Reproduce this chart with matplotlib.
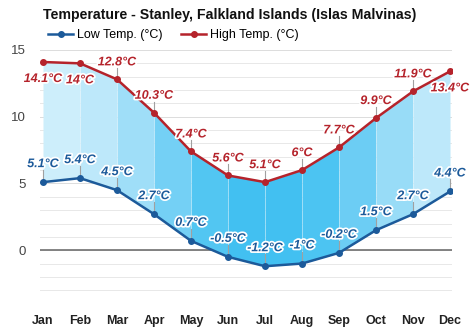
import matplotlib
matplotlib.use("Agg")
import matplotlib.pyplot as plt
import matplotlib.patheffects as pe
import numpy as np

plt.rcParams['font.family'] = ['Liberation Sans', 'DejaVu Sans']

months = ["Jan", "Feb", "Mar", "Apr", "May", "Jun", "Jul", "Aug", "Sep", "Oct", "Nov", "Dec"]
low_temp = [5.1, 5.4, 4.5, 2.7, 0.7, -0.5, -1.2, -1.0, -0.2, 1.5, 2.7, 4.4]
high_temp = [14.1, 14.0, 12.8, 10.3, 7.4, 5.6, 5.1, 6.0, 7.7, 9.9, 11.9, 13.4]
low_labels = ["5.1°C", "5.4°C", "4.5°C", "2.7°C", "0.7°C", "-0.5°C", "-1.2°C", "-1°C", "-0.2°C", "1.5°C", "2.7°C", "4.4°C"]
high_labels = ["14.1°C", "14°C", "12.8°C", "10.3°C", "7.4°C", "5.6°C", "5.1°C", "6°C", "7.7°C", "9.9°C", "11.9°C", "13.4°C"]
high_below = [True, True, False, False, False, False, False, False, False, False, False, True]
seg_colors = ["#cdeefb", "#bde8fa", "#9fdef8", "#74d0f5", "#52c6f2", "#42c0f1",
              "#42c0f1", "#4cc4f2", "#6ccdf4", "#98dcf7", "#bde8fa"]

LOW_C = "#1c5a9a"
HIGH_C = "#b5232b"

fig = plt.figure(figsize=(4.74, 3.31), dpi=100)
ax = fig.add_axes([40/474, 1 - 303.6/331, 412/474, 253.6/331])
x = np.arange(len(months))

for v in range(-4, 16):
    ax.axhline(v, color="#e8e8e8" if v % 5 else "#dcdcdc", lw=0.7, zorder=0)
ax.axhline(0, color="#707070", lw=1.2, zorder=1)

for i in range(len(months) - 1):
    ax.fill_between([x[i], x[i+1]], [low_temp[i], low_temp[i+1]], [high_temp[i], high_temp[i+1]],
                    color=seg_colors[i], lw=0, zorder=2)
for i in range(1, len(months) - 1):
    ax.plot([x[i], x[i]], [low_temp[i], high_temp[i]], color="white", lw=0.6, alpha=0.35, zorder=2.5)

ax.plot(x, low_temp, color=LOW_C, lw=1.8, marker="o", ms=4, zorder=4, label="Low Temp. (°C)")
ax.plot(x, high_temp, color=HIGH_C, lw=1.8, marker="o", ms=4, zorder=4, label="High Temp. (°C)")

stroke = [pe.withStroke(linewidth=2.5, foreground="white")]
ppu = 253.6 / 19
for i in range(len(months)):
    off = 18 / ppu
    ax.plot([x[i], x[i]], [low_temp[i], low_temp[i] + off - 6/ppu], color="#a0a0a0", lw=0.8, zorder=3)
    ax.text(x[i], low_temp[i] + off, low_labels[i], color=LOW_C, fontsize=9, fontweight="bold",
            fontstyle="italic", ha="center", va="center", path_effects=stroke, zorder=6)
    off = 17 / ppu
    if high_below[i]:
        ax.text(x[i], high_temp[i] - off, high_labels[i], color=HIGH_C, fontsize=9, fontweight="bold",
                fontstyle="italic", ha="center", va="center", path_effects=stroke, zorder=6)
    else:
        ax.plot([x[i], x[i]], [high_temp[i], high_temp[i] + off - 6/ppu], color="#a0a0a0", lw=0.8, zorder=3)
        ax.text(x[i], high_temp[i] + off, high_labels[i], color=HIGH_C, fontsize=9, fontweight="bold",
                fontstyle="italic", ha="center", va="center", path_effects=stroke, zorder=6)

ax.set_xlim(-3/37, 11 + 2/37)
ax.set_ylim(-4, 15)
ax.set_yticks([0, 5, 10, 15])
ax.set_xticks(x)
ax.set_xticklabels(months, fontweight="bold", fontsize=9, color="#222222")
ax.tick_params(axis="y", labelsize=9.5, colors="#444444", length=0, pad=10)
ax.tick_params(axis="x", length=0, pad=8)
for s in ax.spines.values():
    s.set_visible(False)

fig.text(43/474, 1 - 15/331, "Temperature - Stanley, Falkland Islands (Islas Malvinas)",
         fontsize=10.2, fontweight="bold", color="#111111", va="center", ha="left")
fig.legend(loc="center left", bbox_to_anchor=(42/474, 1 - 35/331), ncol=2, frameon=False,
           fontsize=9, handlelength=2.0, columnspacing=1.5, handletextpad=0.3, borderpad=0)

fig.savefig("out.png", dpi=100)
